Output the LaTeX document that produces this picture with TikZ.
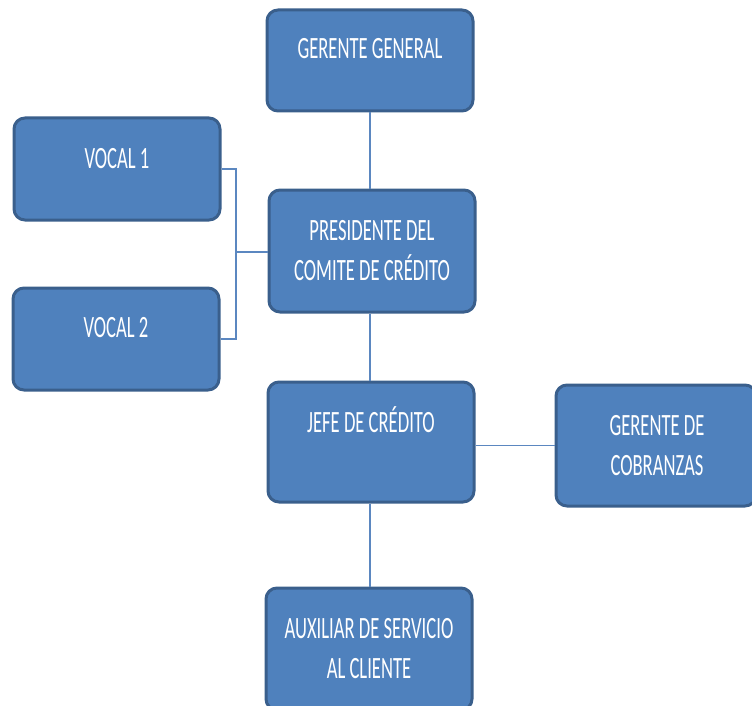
\documentclass[tikz,border=0pt]{standalone}
\usepackage{fontspec}
\setmainfont{Carlito}[FakeStretch=0.6]
\usetikzlibrary{calc}
\definecolor{boxfill}{HTML}{4F81BD}
\definecolor{boxdraw}{HTML}{3A5F8C}
\definecolor{linkc}{HTML}{5B87C0}
\tikzset{
  orgbox/.style={draw=boxdraw, fill=boxfill, line width=3pt, rounded corners=11pt, inner sep=0pt},
  orgtxt/.style={text=white, font=\fontsize{31}{40}\selectfont, anchor=base, align=center, inner sep=0pt},
  link/.style={draw=linkc, line width=1.4pt}
}
\begin{document}
\begin{tikzpicture}[x=1pt,y=-1pt]
\useasboundingbox (0,0) rectangle (752,706);
\begin{scope}
\clip (0,0) rectangle (752,706);
% boxes
\node[orgbox, minimum width=206pt, minimum height=101pt] (gg) at (370,60.5) {};
\node[orgbox, minimum width=206pt, minimum height=102pt] (v1) at (117,169) {};
\node[orgbox, minimum width=206pt, minimum height=122pt] (p) at (372,251) {};
\node[orgbox, minimum width=206pt, minimum height=102pt] (v2) at (116,339) {};
\node[orgbox, minimum width=206pt, minimum height=120pt] (j) at (371,442) {};
\node[orgbox, minimum width=200pt, minimum height=121pt] (gc) at (656,445.5) {};
\node[orgbox, minimum width=206pt, minimum height=122pt] (a) at (369,649) {};
% connectors
\draw[link] (gg.south) -- (gg.south |- p.north);
\draw[link] (p.south -| gg.south) -- (gg.south |- j.north);
\draw[link] (j.south -| gg.south) -- (gg.south |- a.north);
\draw[link] (gc.west) -- (gc.west -| j.east);
\coordinate (br) at (236,252);
\draw[link] (v1.east) -| (br) |- (v2.east);
\draw[link] (br) -- (p.west |- br);
% texts
\node[orgtxt] (tgg) at (370,59) {GERENTE GENERAL};
\node[orgtxt] (tv1) at (117,168) {VOCAL 1};
\node[orgtxt] (tp) at (372,280) {PRESIDENTE DEL\\COMITE DE CRÉDITO};
\node[orgtxt] (tv2) at (116,337) {VOCAL 2};
\node[orgtxt] (tj) at (371,432) {JEFE DE CRÉDITO};
\node[orgtxt] (tgc) at (657,475) {GERENTE DE\\COBRANZAS};
\node[orgtxt] (ta) at (369,678) {AUXILIAR DE SERVICIO\\AL CLIENTE};
\end{scope}
\end{tikzpicture}
\end{document}
